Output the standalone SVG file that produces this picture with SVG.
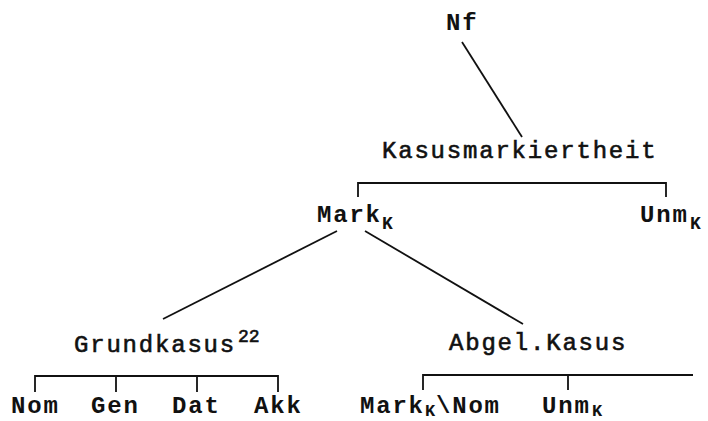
<svg xmlns="http://www.w3.org/2000/svg" width="708" height="421" viewBox="0 0 708 421">
<style>
text{font-family:"Liberation Mono","Courier New",monospace;font-size:24px;letter-spacing:1.8px;fill:#111}
.b{font-weight:bold}
.n{stroke:#111;stroke-width:0.6}
.s{font-size:18px;letter-spacing:0}
.t{font-size:17px;letter-spacing:0}
.e{stroke:#111;stroke-width:1.8;fill:none}
</style>
<rect width="708" height="421" fill="#fff"/>
<g id="connectors">
<line class="e" x1="462" y1="42" x2="522" y2="137"/>
<path class="e" d="M358,197 V183 H666 V197"/>
<line class="e" x1="337" y1="231" x2="163" y2="319"/>
<line class="e" x1="365" y1="231" x2="523" y2="324"/>
<path class="e" d="M35,392 V376 H278 V392 M116,376 V392 M197,376 V392"/>
<path class="e" d="M423,390 V375 H693 M568,375 V390"/>
</g>
<g id="nf"><text class="b" x="446" y="30">Nf</text></g>
<g id="kasusmarkiertheit"><text class="n" x="382" y="158">Kasusmarkiertheit</text></g>
<g id="mark"><text class="b" x="317" y="222">Mark</text><text class="b s" x="382" y="229">K</text></g>
<g id="unm"><text class="b" x="640" y="222">Unm</text><text class="b s" x="690" y="229">K</text></g>
<g id="grundkasus"><text class="n" x="74" y="352">Grundkasus</text><text class="n s" x="238" y="342">22</text></g>
<g id="abgel"><text class="n" x="449" y="350">Abgel.Kasus</text></g>
<g id="nom"><text class="b" x="11" y="413">Nom</text></g>
<g id="gen"><text class="b" x="91" y="413">Gen</text></g>
<g id="dat"><text class="b" x="172" y="413">Dat</text></g>
<g id="akk"><text class="b" x="254" y="413">Akk</text></g>
<g id="marknom"><text class="b" x="360" y="413">Mark</text><text class="b t" x="425" y="416">K</text><text class="b" x="436" y="413">\Nom</text></g>
<g id="unm2"><text class="b" x="542" y="413">Unm</text><text class="b t" x="592" y="416">K</text></g>
</svg>
